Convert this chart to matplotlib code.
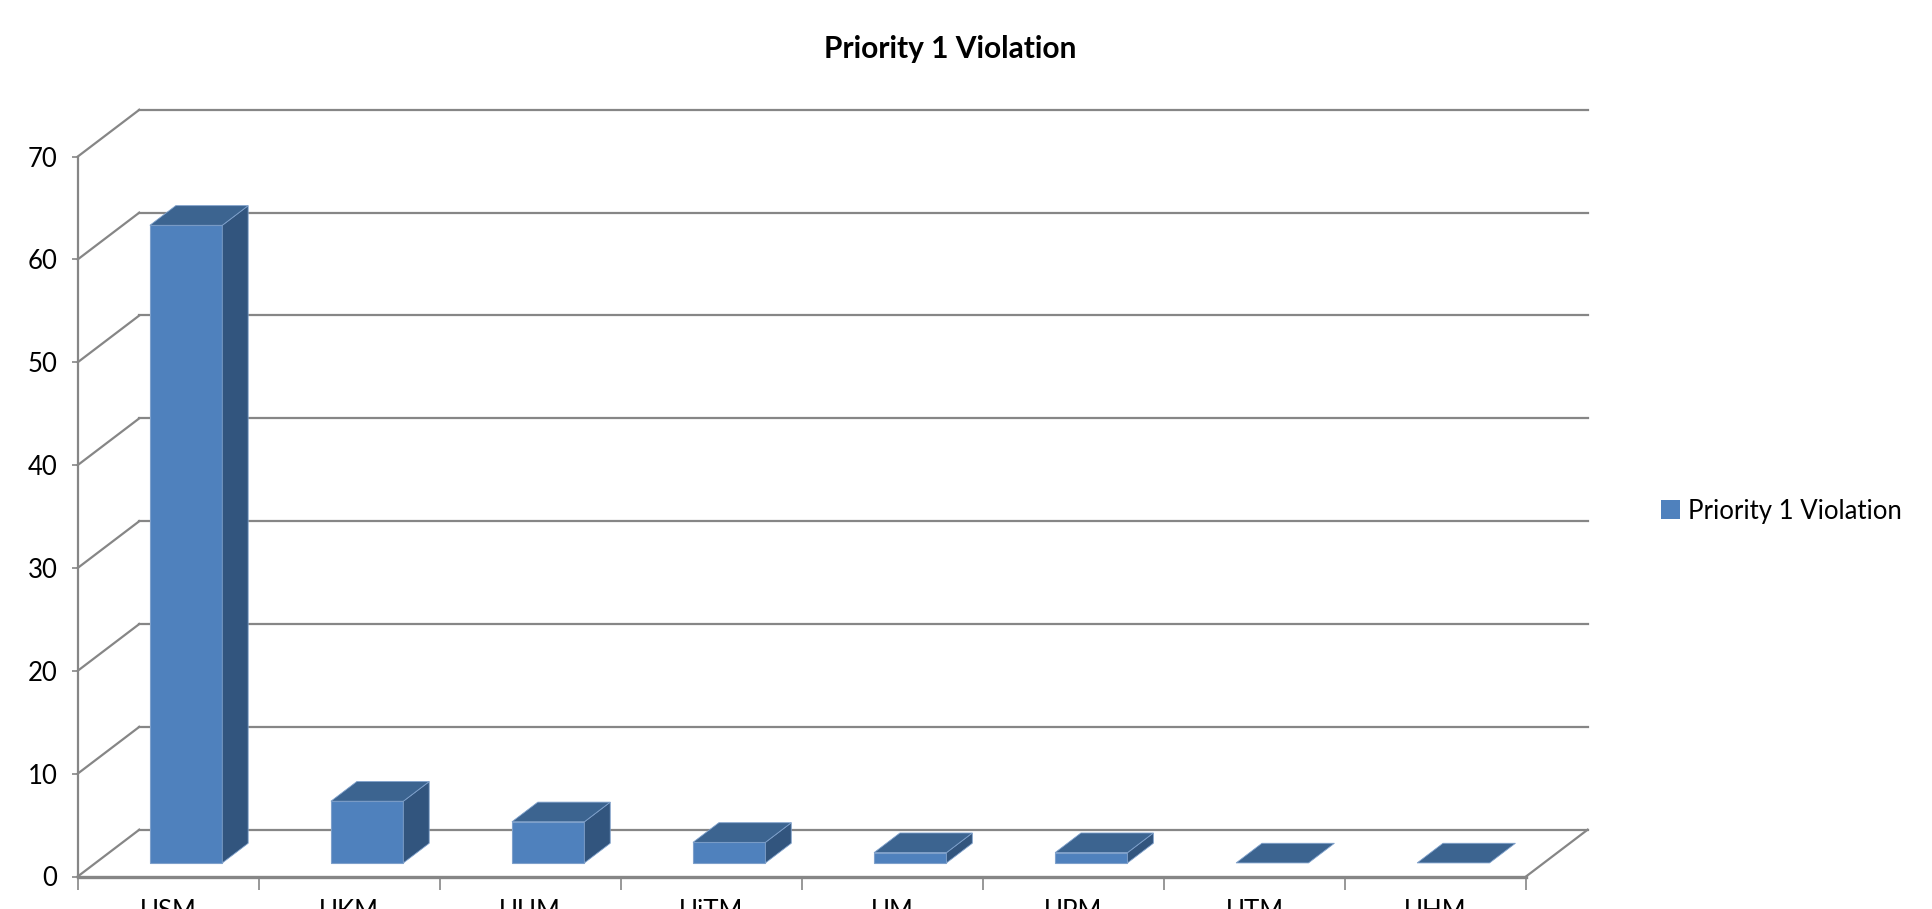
import matplotlib
matplotlib.use('Agg')
import matplotlib.pyplot as plt
from matplotlib.patches import Polygon, Patch
import numpy as np

plt.rcParams['font.family'] = ['Lato', 'DejaVu Sans']

universities = ['USM', 'UKM', 'UUM', 'UiTM', 'UM', 'UPM', 'UTM', 'UHM']
violations = [62, 6, 4, 2, 1, 1, 0, 0]
series_name = 'Priority 1 Violation'
y_ticks = np.arange(0, 80, 10)

grid_col = '#868686'
front_col = '#4F81BD'
top_col = '#3C6490'
side_col = '#32557E'

W, H = 1933, 909
fig = plt.figure(figsize=(W / 100, H / 100), dpi=100)

# front plane of the 3d box, in pixels
x0_px, x1_px = 77.7, 1526.0
y0_px, y1_px = 876.5, 156.6
ax = fig.add_axes([x0_px / W, 1 - y0_px / H, (x1_px - x0_px) / W, (y0_px - y1_px) / H])
n = len(universities)
ax.set_xlim(0, n)
ax.set_ylim(0, 70)
ax.patch.set_visible(False)

# depth of the box expressed in data units
ddx = 61.6 / ((x1_px - x0_px) / n)
ddy = 46.8 / ((y0_px - y1_px) / 70)

# back wall + left wall grid
for v in y_ticks:
    ax.plot([ddx, n + ddx], [v + ddy, v + ddy], color=grid_col, lw=1.6, clip_on=False, zorder=1)
    ax.plot([0, ddx], [v, v + ddy], color=grid_col, lw=1.6, clip_on=False, zorder=1)
# floor right edge
ax.plot([n, n + ddx], [0, ddy], color=grid_col, lw=1.6, clip_on=False, zorder=1)

# bars
w = 0.2
f0, f1 = 0.29, 0.71
for i, v in enumerate(violations):
    c = i + 0.5
    xa, xb = c - w + f0 * ddx, c + w + f0 * ddx
    base = f0 * ddy
    sx, sy = (f1 - f0) * ddx, (f1 - f0) * ddy
    top = base + v
    if v > 0:
        ax.add_patch(Polygon([[xa, base], [xb, base], [xb, top], [xa, top]],
                             closed=True, fc=front_col, ec='#7EA0CB', lw=0.8, zorder=3, clip_on=False))
        ax.add_patch(Polygon([[xb, base], [xb + sx, base + sy], [xb + sx, top + sy], [xb, top]],
                             closed=True, fc=side_col, ec='#7EA0CB', lw=0.6, zorder=3, clip_on=False))
    ax.add_patch(Polygon([[xa, top], [xb, top], [xb + sx, top + sy], [xa + sx, top + sy]],
                         closed=True, fc=top_col, ec='#7EA0CB', lw=0.6, zorder=3, clip_on=False))

for s in ['top', 'right']:
    ax.spines[s].set_visible(False)
ax.spines['left'].set_color(grid_col)
ax.spines['left'].set_linewidth(1.6)
ax.spines['bottom'].set_color(grid_col)
ax.spines['bottom'].set_linewidth(2.4)
ax.spines['bottom'].set_zorder(4)

ax.set_yticks(y_ticks)
ax.tick_params(axis='y', length=4.5, width=1.2, color=grid_col, pad=10, labelsize=18.5)
ax.set_xticks(np.arange(0, n + 1))
ax.set_xticklabels([])
ax.set_xticks(np.arange(n) + 0.5, minor=True)
ax.set_xticklabels(universities, minor=True)
ax.tick_params(axis='x', which='major', length=9, width=1.2, color=grid_col)
ax.tick_params(axis='x', which='minor', length=0, pad=16, labelsize=18.5)

fig.text(0.4917, 0.9457, series_name, ha='center', va='center', fontsize=21.5, fontweight='bold')

fig.legend(handles=[Patch(facecolor=front_col, label=series_name)], loc='center left',
           bbox_to_anchor=(1648 / W, 1 - 511 / H), frameon=False, fontsize=18.5,
           handlelength=0.75, handleheight=0.75, handletextpad=0.3, borderpad=0)

fig.savefig('out.png', dpi=100)
